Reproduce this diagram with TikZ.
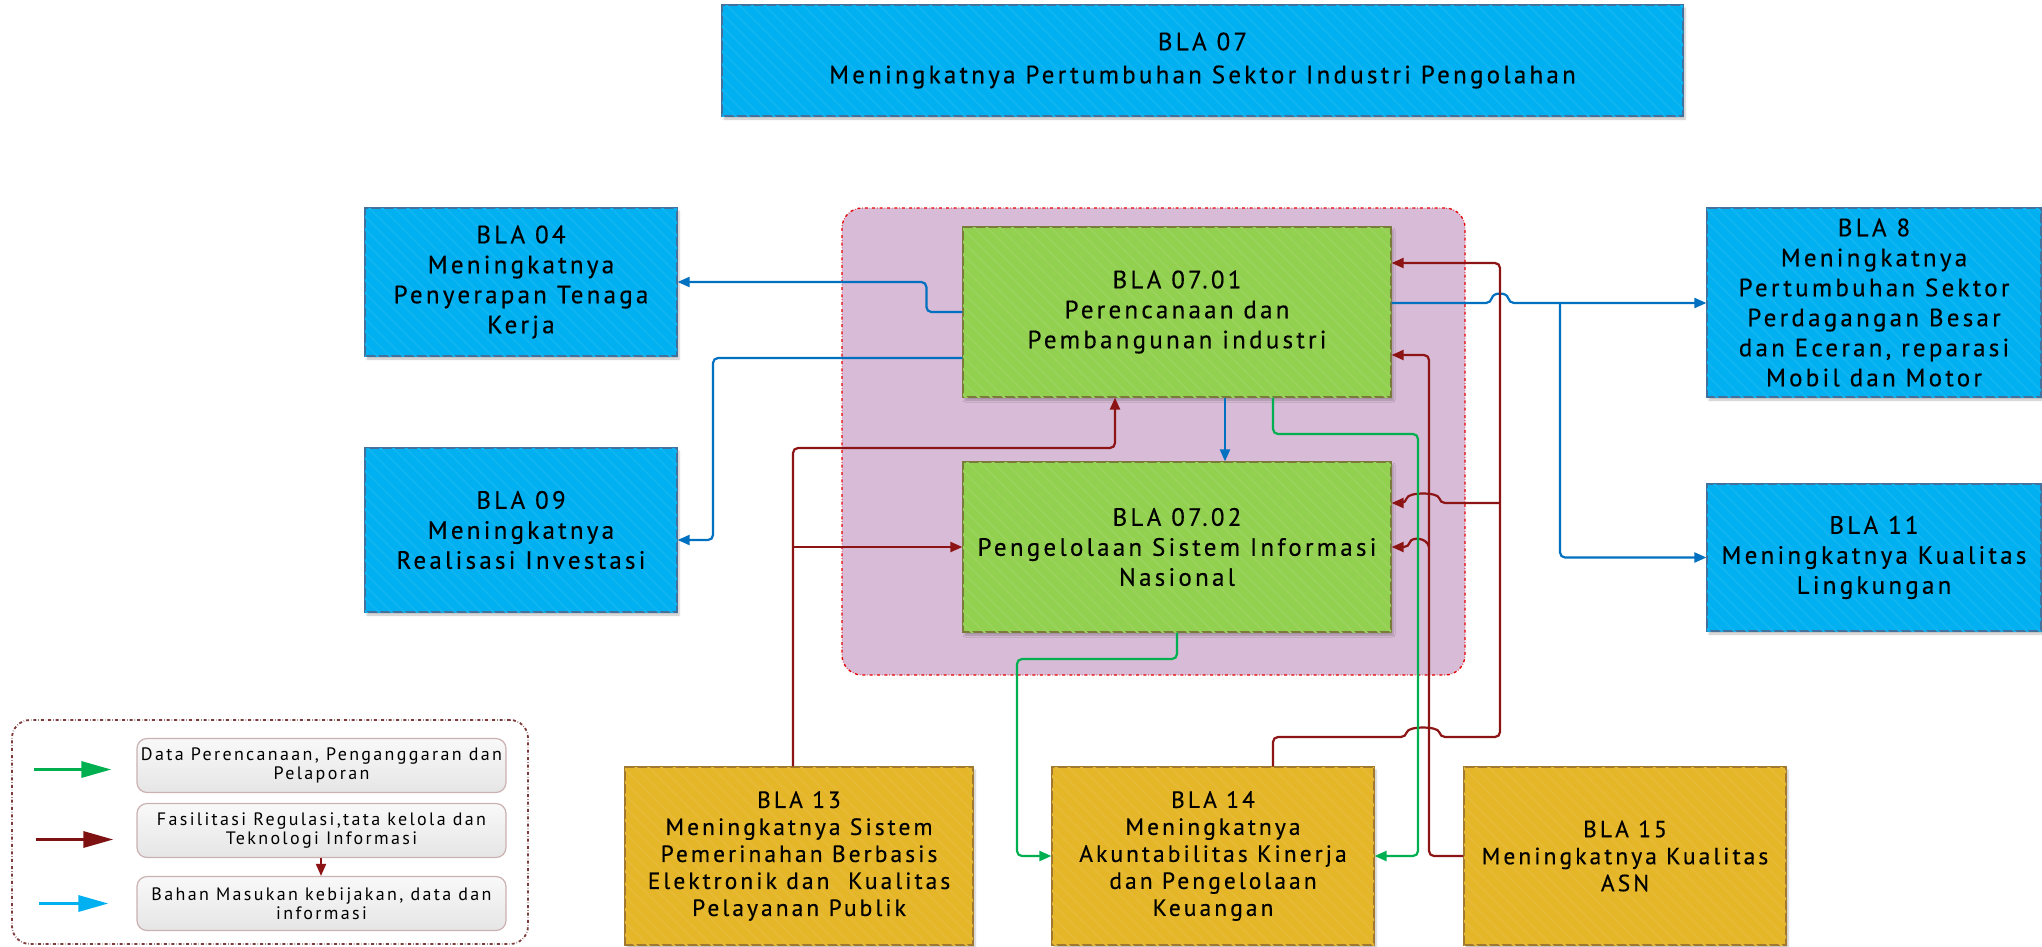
\documentclass[tikz,border=0pt]{standalone}
\usepackage{fontspec}
\setmainfont{PT Sans}
\newfontfamily\blafont{PT Sans}[LetterSpace=13,FakeBold=0.3]
\newfontfamily\legfont{PT Sans}[LetterSpace=13]
\usetikzlibrary{positioning,arrows.meta,shadows.blur,patterns.meta}

\definecolor{bluefill}{HTML}{00B0F0}
\definecolor{blueedge}{HTML}{41719C}
\definecolor{greenfill}{HTML}{92D050}
\definecolor{greenedge}{HTML}{7A7A3A}
\definecolor{goldfill}{HTML}{E5B628}
\definecolor{goldedge}{HTML}{A07830}
\definecolor{grpfill}{HTML}{D8BBD6}
\definecolor{linkblue}{HTML}{0070C0}
\definecolor{linkred}{HTML}{8C1414}
\definecolor{linkgreen}{HTML}{00B050}
\definecolor{legedge}{HTML}{7D3C3C}

\tikzset{
  stripes/.style={postaction={pattern={Lines[angle=-45,distance=9pt,line width=2pt]}, pattern color=#1}},
  box/.style={inner sep=0pt, align=center, line width=1.2pt,
    blur shadow={shadow xshift=2pt, shadow yshift=-3pt, shadow opacity=25},
    font=\blafont\fontsize{25}{30}\selectfont},
  blue box/.style={box, draw=blueedge, fill=bluefill, stripes=bluefill!94!white},
  green box/.style={box, draw=greenedge, fill=greenfill, stripes=greenfill!94!white},
  gold box/.style={box, draw=goldedge, fill=goldfill, stripes=goldfill!94!white, font=\blafont\fontsize{23.5}{27}\selectfont},
  grp/.style={draw=red!90!black, dash dot, line width=1.3pt, fill=grpfill, rounded corners=20pt},
  legend frame/.style={draw=legedge, dash dot, line width=1.8pt, rounded corners=18pt},
  legend item/.style={draw=legedge!40, line width=1.2pt, rounded corners=10pt, top color=gray!5, bottom color=gray!20,
    minimum width=369, minimum height=54, inner sep=0pt, align=center, font=\legfont\fontsize{18}{19}\selectfont},
  link/.style={line width=2.2pt, rounded corners=5pt, -{Triangle[length=12pt,width=10pt]}},
  blue line/.style={link, draw=linkblue},
  red line/.style={link, draw=linkred},
  green line/.style={link, draw=linkgreen},
  key arrow/.style={line width=3pt, -{Triangle[length=30pt,width=16pt]}}
}

\begin{document}
\begin{tikzpicture}[x=1pt, y=-1pt, on grid]
  \useasboundingbox (0,0) rectangle (2042,946);

  % grup BLA 07.01 / 07.02
  \node[grp, minimum width=623, minimum height=467] (grp_07) at (1153.5,441.5) {};

  \node[blue box, minimum width=961, minimum height=111, font=\blafont\fontsize{25}{33}\selectfont] (bla_07) at (1202.5,60.5)
    {BLA 07\\Meningkatnya Pertumbuhan Sektor Industri Pengolahan};

  \node[blue box, minimum width=312, minimum height=148] (bla_04) at (521,282)
    {BLA 04\\Meningkatnya\\Penyerapan Tenaga\\Kerja};
  \node[blue box, minimum width=312, minimum height=164, below=248pt of bla_04] (bla_09)
    {BLA 09\\Meningkatnya\\Realisasi Investasi};

  \node[green box, minimum width=428, minimum height=170] (bla_0701) at (1177,312)
    {BLA 07.01\\Perencanaan dan\\Pembangunan industri};
  \node[green box, minimum width=428, minimum height=170, below=235pt of bla_0701] (bla_0702)
    {BLA 07.02\\Pengelolaan Sistem Informasi\\Nasional};

  \node[blue box, minimum width=334, minimum height=189] (bla_8) at (1874,302.5)
    {BLA 8\\Meningkatnya\\Pertumbuhan Sektor\\Perdagangan Besar\\dan Eceran, reparasi\\Mobil dan Motor};
  \node[blue box, minimum width=334, minimum height=147, below=255pt of bla_8] (bla_11)
    {BLA 11\\Meningkatnya Kualitas\\Lingkungan};

  \node[gold box, minimum width=348, minimum height=178] (bla_13) at (799,856)
    {BLA 13\\Meningkatnya Sistem\\Pemerinahan Berbasis\\Elektronik dan\ \ Kualitas\\Pelayanan Publik};
  \node[gold box, minimum width=322, minimum height=178, right=414pt of bla_13] (bla_14)
    {BLA 14\\Meningkatnya\\Akuntabilitas Kinerja\\dan Pengelolaan\\Keuangan};
  \node[gold box, minimum width=322, minimum height=178, right=412pt of bla_14] (bla_15)
    {BLA 15\\Meningkatnya Kualitas\\ASN};

  % keterangan
  \node[legend frame, minimum width=516, minimum height=224] (legend) at (270,832) {};
  \node[legend item] (leg_1) at (321.5,765.5) {Data Perencanaan, Penganggaran dan\\Pelaporan};
  \node[legend item, below=65pt of leg_1] (leg_2) {Fasilitasi Regulasi,tata kelola dan\\Teknologi Informasi};
  \node[legend item, below=73pt of leg_2] (leg_3) {Bahan Masukan kebijakan, data dan\\informasi};

  \draw[key arrow, linkgreen] ([xshift=-102pt,yshift=-4pt]leg_1.west) -- ([xshift=-25pt,yshift=-4pt]leg_1.west);
  \draw[key arrow, linkred!90!black] ([xshift=-100pt,yshift=-9pt]leg_2.west) -- ([xshift=-23pt,yshift=-9pt]leg_2.west);
  \draw[key arrow, bluefill] ([xshift=-97pt]leg_3.west) -- ([xshift=-28pt]leg_3.west);
  \draw[red line, line width=1.8pt] (leg_2.south -| 321,0) -- (leg_3.north -| 321,0);

  % bahan masukan (biru)
  \draw[blue line] (bla_0701.west) -- ++(-36,0) |- (bla_04.east);
  \draw[blue line] (bla_0701.west |- 0,358) -| (713,540) -- (bla_09.east |- 0,540);
  \draw[blue line] (bla_0701.south -| 1225,0) -- (bla_0702.north -| 1225,0);
  \coordinate (split_8) at (1560,303);
  \draw[blue line] (bla_0701.east |- 0,303) -- (1491,303) .. controls (1493,292) and (1507,292) .. (1509,303) -- (bla_8.west |- 0,303);
  \draw[blue line] (split_8) |- (bla_11.west);

  % fasilitasi (merah)
  \draw[red line] (bla_13.north -| 793,0) |- (1115,448) -- (bla_0701.south -| 1115,0);
  \coordinate (split_13) at (793,547);
  \draw[red line] (split_13) -- (bla_0702.west);
  \draw[red line] (bla_14.north -| 1273,0) -- (1273,737) -- (1406,737) .. controls (1408,726) and (1438,726) .. (1440,737) -- (1500,737) |- (bla_0701.east |- 0,263);
  \coordinate (split_14) at (1500,503);
  \draw[red line] (split_14) -- (1440,503) .. controls (1438,492) and (1408,492) .. (1406,503) -- (bla_0702.east |- 0,503);
  \draw[red line] (bla_15.west) -| (1429,355) -- (bla_0701.east |- 0,355);
  \coordinate (split_15) at (1429,547);
  \draw[red line] (split_15) .. controls (1427,537) and (1411,537) .. (1409,547) -- (bla_0702.east);

  % data perencanaan (hijau)
  \draw[green line] (bla_0701.south -| 1273,0) |- (1418,434) |- (bla_14.east);
  \draw[green line] (bla_0702.south) |- (1017,659) |- (bla_14.west);
\end{tikzpicture}
\end{document}
